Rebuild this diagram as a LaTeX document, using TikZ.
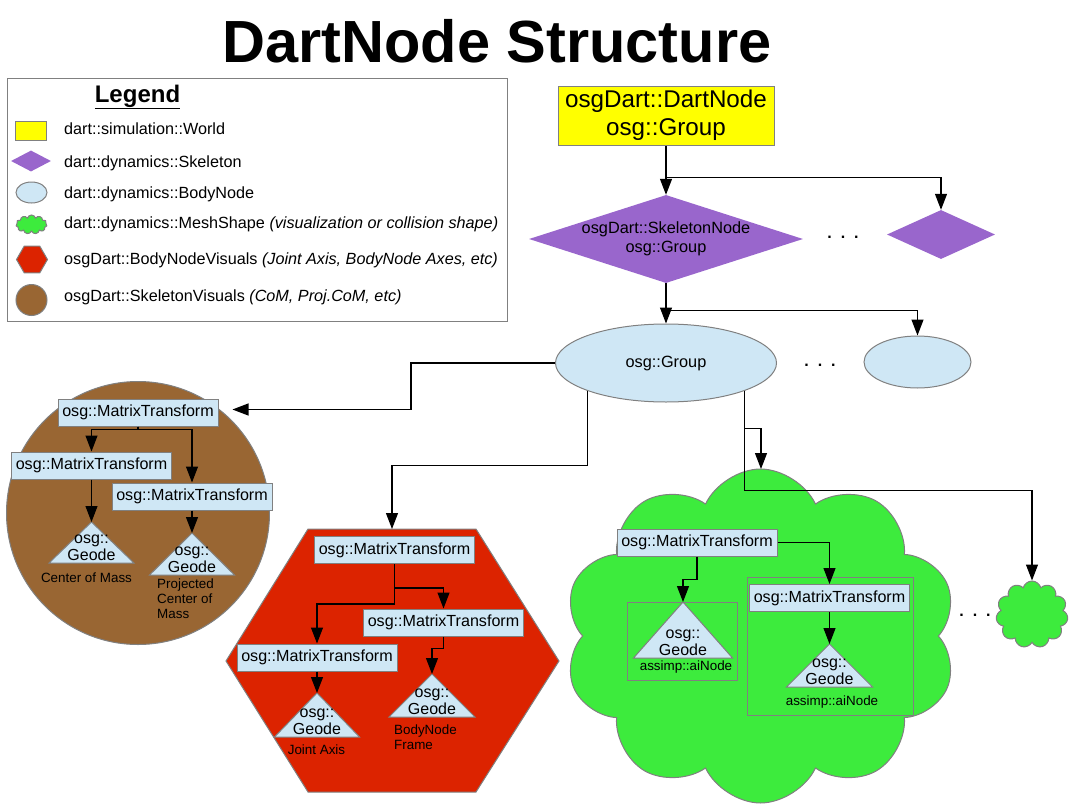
\documentclass[tikz,border=0pt]{standalone}
\usepackage{fontspec}
\setmainfont{Liberation Sans}
\usetikzlibrary{arrows.meta,shapes,positioning}

\definecolor{WorldYellow}{HTML}{FFFF00}
\definecolor{SkelPurple}{HTML}{9966CC}
\definecolor{BodyBlue}{HTML}{CFE7F5}
\definecolor{MeshGreen}{HTML}{3DEB3D}
\definecolor{VisRed}{HTML}{DC2300}
\definecolor{VisBrown}{HTML}{996633}
\definecolor{EdgeGray}{HTML}{808080}

% triangle geode: name, apex x, apex y, height, half width
\newcommand{\Geode}[5]{%
	\coordinate (#1) at (#2,#3);
	\filldraw[GeodeTri] (#1) -- ++(-#5,#4) -- ++(2*#5,0) -- cycle;
	\node[GeodeText] (#1Text) at (#2,#3+#4-15) {osg::\\Geode};
}

\begin{document}
\begin{tikzpicture}[x=1pt,y=-1pt,>={Triangle[length=16pt,width=12pt]},
	Edge/.style={->,black,line width=1.1pt},
	WorldBox/.style={rectangle,fill=WorldYellow,draw=EdgeGray,line width=1pt,inner sep=0pt},
	SkelNode/.style={diamond,fill=SkelPurple,inner sep=0pt},
	SkelText/.style={align=center,inner sep=0pt,font=\fontsize{16.3}{19.5}\selectfont},
	BodyNode/.style={ellipse,fill=BodyBlue,draw=EdgeGray,line width=1pt,inner sep=0pt,font=\fontsize{16.3}{19.5}\selectfont},
	MeshNode/.style={cloud,cloud puffs=11,cloud ignores aspect,fill=MeshGreen,draw=EdgeGray,line width=1pt,inner sep=0pt},
	BNVisNode/.style={fill=VisRed,draw=EdgeGray,line width=1pt},
	SVisNode/.style={circle,fill=VisBrown,draw=EdgeGray,line width=1pt,inner sep=0pt},
	XformNode/.style={rectangle,fill=BodyBlue,draw=EdgeGray,line width=1pt,minimum width=160pt,minimum height=27pt,inner sep=0pt,font=\fontsize{16.1}{19}\selectfont},
	GeodeTri/.style={fill=BodyBlue,draw=EdgeGray,line width=1pt},
	GeodeText/.style={align=center,inner sep=0pt,font=\fontsize{16}{17}\selectfont},
	Caption/.style={inner sep=0pt,font=\fontsize{13.4}{15}\selectfont},
	Frame/.style={rectangle,draw=EdgeGray,line width=1pt,inner sep=0pt},
	Dots/.style={anchor=base,inner sep=0pt,font=\bfseries\fontsize{16}{19}\selectfont},
	LegendText/.style={anchor=base west,inner sep=0pt,font=\fontsize{16.2}{19}\selectfont},
]
	\useasboundingbox (0,0) rectangle (1074,806);

	\node[anchor=base,font=\bfseries\fontsize{59.5}{70}\selectfont] (title) at (497,62) {DartNode Structure};

	% legend
	\node[draw=EdgeGray,line width=1pt,minimum width=500pt,minimum height=243pt,inner sep=0pt] (legend) at (257,199.5) {};
	\node[font=\bfseries\fontsize{24}{28}\selectfont] (legendTitle) at (137.5,97) {\underline{Legend}};
	\node[WorldBox,minimum width=31pt,minimum height=19pt] (keyWorld) at (30.5,130.5) {};
	\node[SkelNode,minimum width=40pt,minimum height=21pt] (keySkel) at (31,161) {};
	\node[BodyNode,minimum width=31pt,minimum height=21pt] (keyBody) at (31.5,192.5) {};
	\node[MeshNode,minimum width=31pt,minimum height=19pt] (keyMesh) at (31.5,224.5) {};
	\node[BNVisNode,regular polygon,regular polygon sides=6,minimum size=31pt,inner sep=0pt] (keyBNVis) at (32,259.5) {};
	\node[SVisNode,minimum size=31pt] (keySVis) at (31.5,300) {};
	\node[LegendText] (txtWorld) at (64,134) {dart::simulation::World};
	\node[LegendText] (txtSkel) at (64,167) {dart::dynamics::Skeleton};
	\node[LegendText] (txtBody) at (64,198) {dart::dynamics::BodyNode};
	\node[LegendText] (txtMesh) at (64,228) {dart::dynamics::MeshShape \textit{(visualization or collision shape)}};
	\node[LegendText] (txtBNVis) at (64,264) {osgDart::BodyNodeVisuals \textit{(Joint Axis, BodyNode Axes, etc)}};
	\node[LegendText] (txtSVis) at (64,301) {osgDart::SkeletonVisuals \textit{(CoM, Proj.CoM, etc)}};

	% main tree
	\node[WorldBox,minimum width=216pt,minimum height=59pt,align=center,font=\fontsize{24.2}{28}\selectfont] (dart) at (666,115.5) {osgDart::DartNode\\osg::Group};
	\node[SkelNode,minimum width=274pt,minimum height=88pt,label={[SkelText]center:osgDart::SkeletonNode\\osg::Group}] (skel) at (666,239) {};
	\node[SkelNode,minimum width=108pt,minimum height=49pt] (skel2) at (941,234.5) {};
	\node[Dots] (dots1) at (843,238) {.~~.~~.};
	\node[BodyNode,minimum width=221pt,minimum height=78pt] (grp) at (666,363) {osg::Group};
	\node[BodyNode,minimum width=107pt,minimum height=52pt] (grp2) at (917.5,362) {};
	\node[Dots] (dots2) at (820,366) {.~~.~~.};

	% visuals
	\node[SVisNode,minimum size=263pt] (skelVis) at (138,513) {};
	\draw[BNVisNode] (226,661) -- (308,529) -- (476,529) -- (559,661) -- (476,792) -- (308,792) -- cycle;
	\coordinate (bnVis) at (392,529);
	\node[MeshNode,cloud puffs=10,cloud puff arc=130,minimum width=393pt,minimum height=334pt] (mesh) at (760.5,636) {};
	\coordinate (meshIn) at (761,469);
	\node[MeshNode,minimum width=72pt,minimum height=67pt] (mesh2) at (1032,614.5) {};
	\node[Dots] (dots3) at (975,616) {.~~.~~.};

	% skeleton visuals
	\node[XformNode] (sTop) at (138,412.5) {osg::MatrixTransform};
	\node[XformNode] (sLeft) at (91.5,465.5) {osg::MatrixTransform};
	\node[XformNode] (sRight) at (192,496.5) {osg::MatrixTransform};
	\Geode{sGeoA}{91.5}{522}{41}{42.5}
	\Geode{sGeoB}{192}{533}{42}{42.5}
	\node[Caption] (capCoM) at (86.5,578) {Center of Mass};
	\node[Caption,align=left,anchor=north west] (capProj) at (157,579) {Projected\\Center of\\Mass};

	% bodynode visuals
	\node[XformNode] (hTop) at (394.5,550) {osg::MatrixTransform};
	\node[XformNode] (hRight) at (443.5,622.5) {osg::MatrixTransform};
	\node[XformNode] (hLeft) at (317,657.5) {osg::MatrixTransform};
	\Geode{hGeoA}{317}{693}{44}{42.5}
	\Geode{hGeoB}{432}{674}{43}{43}
	\node[Caption] (capJoint) at (316.5,750) {Joint Axis};
	\node[Caption,align=left,anchor=north west] (capFrame) at (394,725) {BodyNode\\Frame};

	% mesh shape
	\node[XformNode] (mTop) at (697,542.5) {osg::MatrixTransform};
	\node[Frame,minimum width=110pt,minimum height=78pt] (frameA) at (682,641) {};
	\node[Frame,minimum width=166pt,minimum height=138pt] (frameB) at (830,646) {};
	\node[XformNode] (mSub) at (829.5,598) {osg::MatrixTransform};
	\Geode{mGeoA}{683}{602}{56}{49.5}
	\Geode{mGeoB}{829.5}{644}{43}{43}
	\node[Caption] (capNodeA) at (686,667) {assimp::aiNode};
	\node[Caption] (capNodeB) at (832,702) {assimp::aiNode};

	% connectors
	\draw[Edge] (dart.south) -- (skel.north);
	\draw[Edge] ([yshift=-32pt]dart.south) -| (skel2.north);
	\draw[Edge] (skel.south) -- (grp.north);
	\draw[Edge] ([yshift=-27pt]skel.south) -| (grp2.north);
	\draw[Edge] (grp.west) -- ++(-144,0) |- ([xshift=14pt,yshift=3pt]sTop.east);
	\draw[Edge] (grp.south west) -- ++(0,75) -| (bnVis);
	\draw[Edge] (grp.south east) -- ++(0,38) -| (meshIn);
	\draw[Edge] (grp.south east) -- ++(0,100) -| (mesh2.north);
	\draw[Edge] (sTop.south) -- ++(0,3) -| (sLeft.north);
	\draw[Edge] (sTop.south) -- ++(0,3) -| (sRight.north);
	\draw[Edge] (sLeft.south) -- (sGeoA);
	\draw[Edge] (sRight.south) -- (sGeoB);
	\draw[Edge] (hTop.south) -- ++(0,24) -| (hRight.north);
	\draw[Edge] (hTop.south) -- ++(0,40) -| (hLeft.north);
	\draw[Edge] (hLeft.south) -- (hGeoA);
	\draw[Edge] (hRight.south) -- ++(0,12) -| (hGeoB);
	\draw[Edge] (mTop.south) -- ++(0,23) -| (mGeoA);
	\draw[Edge] (mTop.east) -| (mSub.north);
	\draw[Edge] (mSub.south) -- (mGeoB);
\end{tikzpicture}
\end{document}
